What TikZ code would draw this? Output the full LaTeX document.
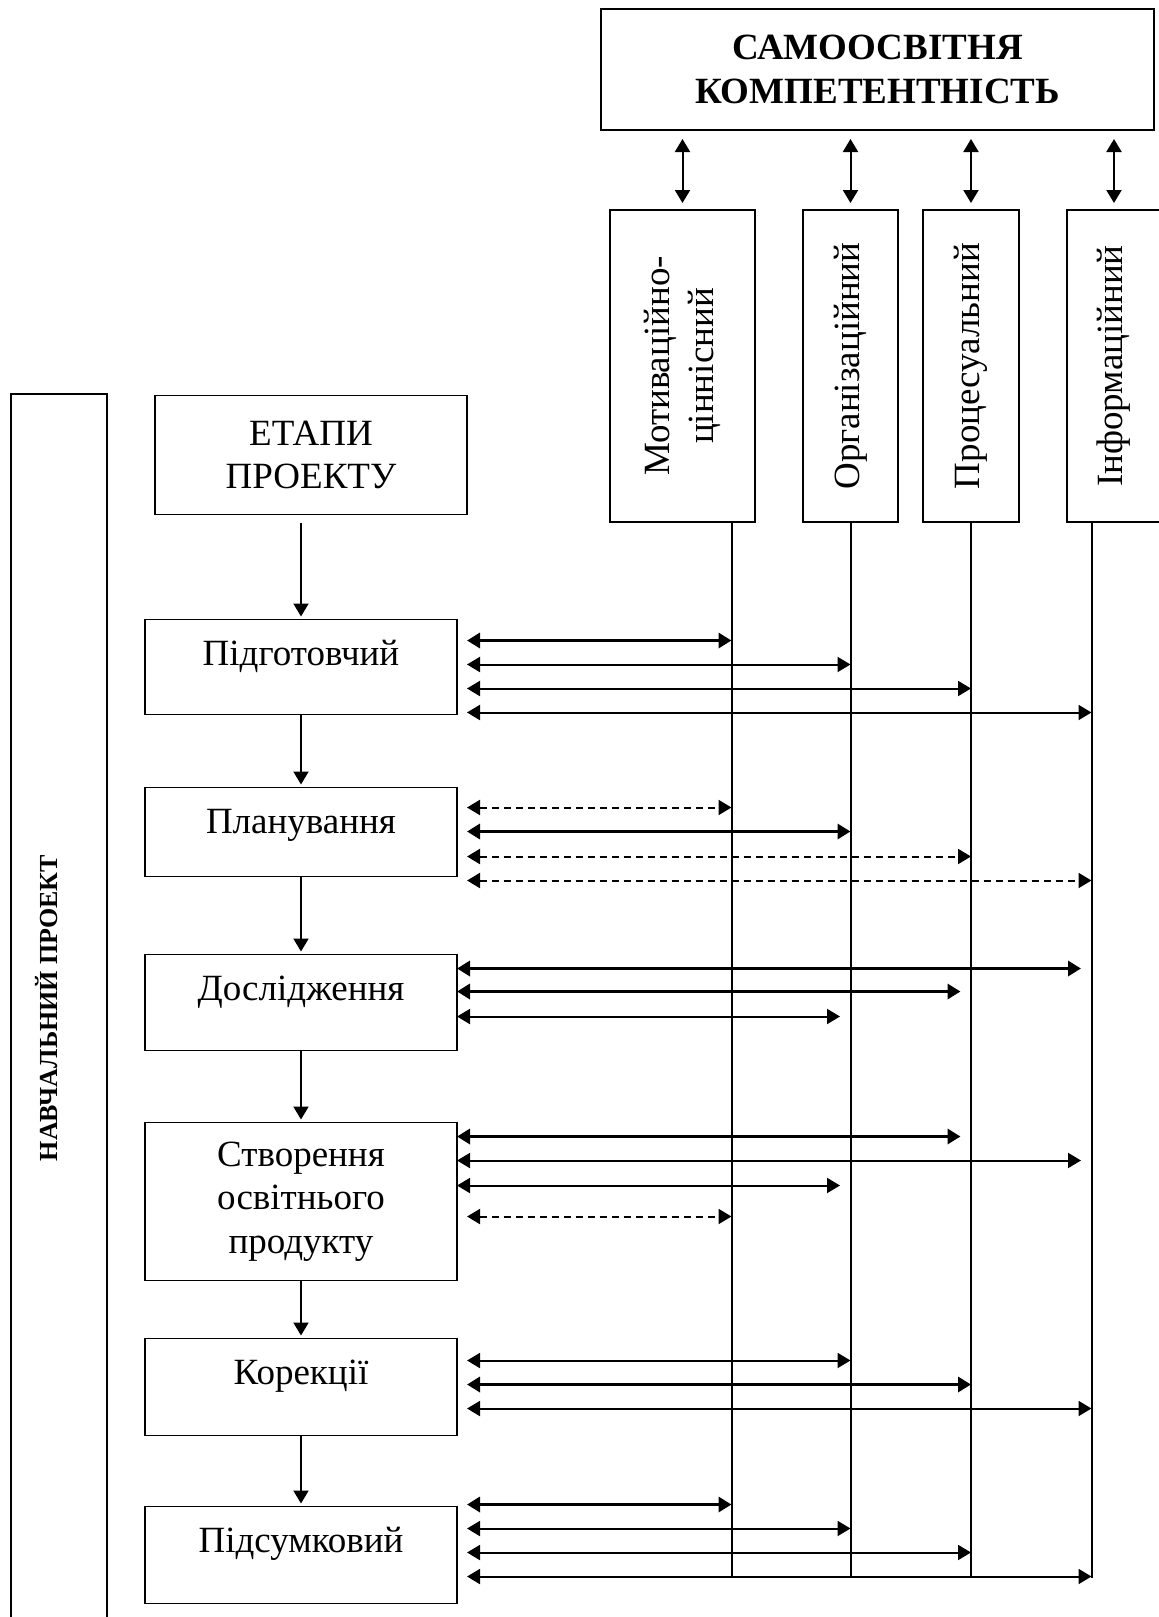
\documentclass[tikz,border=0pt]{standalone}
\usepackage{fontspec}
\setmainfont{Liberation Serif}
\usetikzlibrary{arrows.meta,positioning,calc}
\tikzset{>={Triangle[length=6.5pt,width=7.5pt]}}

\begin{document}
\begin{tikzpicture}[
		x=0.5pt, y=-0.5pt,
		node distance=36.5pt,
		every node/.style={font=\fontsize{18.5}{21.7}\selectfont},
		box/.style={rectangle, draw, line width=0.9pt, inner sep=0pt, outer sep=0pt, align=center},
		stage/.style={box, minimum width=156pt},
		onerow/.style={stage, text height=23pt, text depth=#1},
		kbox/.style={box, rotate=90, minimum width=156pt},
		link/.style={<->, line width=1pt},
		boldlink/.style={<->, line width=1.8pt},
		dashlink/.style={<->, line width=1pt, dash pattern=on 3.5pt off 2.5pt},
		flow/.style={->, line width=1pt}
		]
		
		\useasboundingbox (0,0) rectangle (1159,1617);
		\clip (0,0) rectangle (1159,1617);
		
		% Competence and its components
		\node[box, font=\fontsize{18.5}{21.7}\selectfont\bfseries,
		minimum width=276.5pt, minimum height=60.5pt] (comp) at (877.5,69.5)
		{САМООСВІТНЯ\\КОМПЕТЕНТНІСТЬ};
		\node[kbox, minimum height=72.5pt] (k1) at (682.5,366) {Мотиваційно-\\ціннісний};
		\node[kbox, minimum height=47.5pt] (k2) at (850.5,366) {Організаційний};
		\node[kbox, minimum height=48pt] (k3) at (971,366) {Процесуальний};
		\node[kbox, minimum height=47pt] (k4) at (1114,366) {Інформаційний};
		
		% rotated boxes: east is the top, west is the bottom
		\foreach \k in {k1,k2,k3,k4}
		\draw[link, shorten <=3.5pt, shorten >=4.5pt] (\k.east) -- (\k.east |- comp.south);
		
		% Vertical lines under the components
		\coordinate (base) at (0,1578);
		\path (k1.west) ++(49,0) coordinate (v1);
		\coordinate (v2) at (k2.west);
		\coordinate (v3) at (k3.west);
		\path (k4.west) ++(-22.5,0) coordinate (v4);
		\foreach \v in {v1,v2,v3,v4}
		\draw[line width=1pt] (\v) -- (\v |- base);
		
		% Project frame
		\node[box, rotate=90, font=\fontsize{13}{15}\selectfont\bfseries,
		minimum width=614pt, minimum height=48pt, text height=9pt, text depth=11pt]
		(proj) at (59,1008) {НАВЧАЛЬНИЙ ПРОЕКТ};
		
		% Stages
		\node[stage, minimum height=59.5pt] (etapy) at (311,455) {ЕТАПИ\\ПРОЕКТУ};
		\node[onerow=24.5pt, below=52.5pt of etapy, xshift=-5pt] (s1) {Підготовчий};
		\node[onerow=21.5pt, below=of s1] (s2) {Планування};
		\node[onerow=25pt, below=39pt of s2] (s3) {Дослідження};
		\node[stage, minimum height=79pt, below=36pt of s3] (s4) {Створення\\освітнього\\продукту};
		\node[onerow=25.5pt, below=29pt of s4] (s5) {Корекції};
		\node[onerow=25.5pt, below=35.5pt of s5] (s6) {Підсумковий};
		
		\draw[flow, shorten <=4pt, shorten >=1.5pt] (s1.north |- etapy.south) -- (s1.north);
		\foreach \a/\b in {s1/s2, s2/s3, s3/s4, s4/s5, s5/s6}
		\draw[flow, shorten >=1.5pt] (\a.south) -- (\b.north);
		
		% Links between stages and components
		\foreach \s/\dy/\v/\kind/\gap/\cut in {
			s1/21/v1/boldlink/10/0, s1/45/v2/link/10/0, s1/69/v3/link/10/0, s1/93/v4/link/10/0,
			s2/20/v1/dashlink/10/0, s2/44/v2/boldlink/10/0, s2/69/v3/dashlink/10/0, s2/93/v4/dashlink/10/0,
			s3/14/v4/boldlink/0/5.25, s3/37/v3/boldlink/0/5.25, s3/62/v2/link/0/5.25,
			s4/14/v3/boldlink/0/5.25, s4/38/v4/link/0/5.25, s4/63/v2/link/0/5.25, s4/94/v1/dashlink/10/0,
			s5/22/v2/link/10/0, s5/46/v3/boldlink/10/0, s5/70/v4/link/10/0,
			s6/-2/v1/boldlink/10/0, s6/22/v2/link/10/0, s6/46/v3/link/10/0, s6/70/v4/link/10/0}
		\draw[\kind, shorten >=\cut pt] ($(\s.north east)+(\gap,\dy)$) coordinate (a) -- (a -| \v);
		
	\end{tikzpicture}
\end{document}
